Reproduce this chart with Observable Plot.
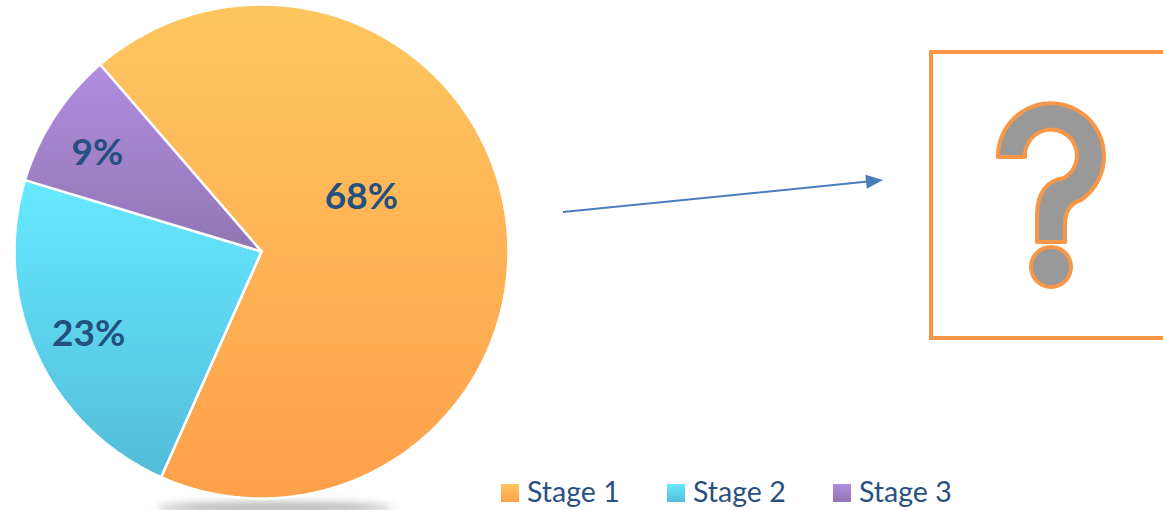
<!DOCTYPE html>
<html><head><meta charset="utf-8">
<script src="https://cdn.jsdelivr.net/npm/d3@7"></script>
<script src="https://cdn.jsdelivr.net/npm/@observablehq/plot@0.6"></script>
<style>html,body{margin:0;padding:0;background:#fff;overflow:hidden}</style>
</head><body><div id="chart"></div>
<script>
// ---- data ----
const stages = ["Stage 1", "Stage 2", "Stage 3"];
const shares = [68, 23, 9];
const shareLabels = ["68%", "23%", "9%"];

// ---- layout / style ----
const W = 1163, H = 510;
const cx = 261, cy = 251, R = 247;
const startDeg = -40.8;
const gradTop = ["#FEC660", "#66E9FF", "#B28DE0"];
const gradBot = ["#FFA04B", "#53BCD9", "#9175B3"];
const labelPolar = [[61.6, 0.46], [244.5, 0.775], [301, 0.775]]; // angle (deg from top), radius fraction
const textBlue = "#24507F";

const total = d3.sum(shares);
let acc = startDeg;
const slices = stages.map((s, i) => {
  const a0 = acc, a1 = acc + shares[i] / total * 360;
  acc = a1;
  return {stage: s, i, a0, a1};
});
const pts = [];
for (const sl of slices) {
  pts.push({stage: sl.stage, i: sl.i, x: 0, y: 0});
  const n = Math.ceil((sl.a1 - sl.a0) / 0.5);
  for (let k = 0; k <= n; k++) {
    const a = (sl.a0 + (sl.a1 - sl.a0) * k / n) * Math.PI / 180;
    pts.push({stage: sl.stage, i: sl.i, x: Math.sin(a), y: Math.cos(a)});
  }
  pts.push({stage: sl.stage, i: sl.i, x: 0, y: 0});
}
const labelData = stages.map((s, i) => {
  const a = labelPolar[i][0] * Math.PI / 180, r = labelPolar[i][1];
  return {text: shareLabels[i], x: r * Math.sin(a), y: r * Math.cos(a)};
});

const plot = Plot.plot({
  width: W, height: H, margin: 0,
  x: {domain: [-1, 1], range: [cx - R, cx + R], axis: null},
  y: {domain: [-1, 1], range: [cy + R, cy - R], axis: null},
  color: {type: "identity"},
  style: {background: "transparent", overflow: "visible"},
  marks: [
    Plot.line(pts, {x: "x", y: "y", z: "stage", fill: d => `url(#g${d.i})`, stroke: "white", strokeWidth: 2.5, strokeLinejoin: "round"}),
    Plot.text(labelData, {x: "x", y: "y", text: "text", fontSize: 37, fontWeight: 700, fill: textBlue, fontFamily: "Lato", lineAnchor: "middle"})
  ]
});
document.getElementById("chart").appendChild(plot);

const svg = d3.select(plot);
const defs = svg.insert("defs", ":first-child");
gradTop.forEach((c, i) => {
  const g = defs.append("linearGradient").attr("id", `g${i}`).attr("x1", 0).attr("y1", 0).attr("x2", 0).attr("y2", 1);
  g.append("stop").attr("offset", 0).attr("stop-color", c);
  g.append("stop").attr("offset", 1).attr("stop-color", gradBot[i]);
});
const blur = defs.append("filter").attr("id", "blur").attr("x", "-50%").attr("y", "-200%").attr("width", "200%").attr("height", "500%");
blur.append("feGaussianBlur").attr("stdDeviation", 4);

// shadow under pie
svg.insert("ellipse", "defs + *").attr("cx", 275).attr("cy", 508).attr("rx", 118).attr("ry", 6)
  .attr("fill", "#b8b8b8").attr("filter", "url(#blur)");

// arrow
const deco = svg.append("g");
deco.append("line").attr("x1", 563).attr("y1", 212).attr("x2", 868).attr("y2", 181.6)
  .attr("stroke", "#4A7EBB").attr("stroke-width", 2);
deco.append("polygon").attr("points", "883,180 866.8,188.7 865.4,174.7").attr("fill", "#4A7EBB");

// box with question mark
deco.append("rect").attr("x", 931).attr("y", 52).attr("width", 260).attr("height", 286)
  .attr("fill", "none").attr("stroke", "#F79646").attr("stroke-width", 4);
deco.append("path")
  .attr("d", "M 998 157 A 53 53 0 1 1 1081 200 Q 1065 205 1065 224 L 1065 242 L 1037 242 L 1037 214 Q 1038 182 1064 178 A 26 26 0 1 0 1025 157 Z")
  .attr("fill", "#999999").attr("stroke", "#F79646").attr("stroke-width", 4).attr("stroke-linejoin", "round");
deco.append("circle").attr("cx", 1051).attr("cy", 267).attr("r", 20)
  .attr("fill", "#999999").attr("stroke", "#F79646").attr("stroke-width", 4);

// legend
const legX = [501, 667, 833];
const leg = svg.append("g").attr("text-anchor", "start");
stages.forEach((s, i) => {
  leg.append("rect").attr("x", legX[i]).attr("y", 484).attr("width", 18).attr("height", 18).attr("fill", `url(#g${i})`);
  leg.append("text").attr("x", legX[i] + 26).attr("y", 502).attr("text-anchor", "start").text(s)
    .attr("font-family", "Lato").attr("font-size", 28.5).attr("fill", "#2A5080");
});
</script>
</body></html>
